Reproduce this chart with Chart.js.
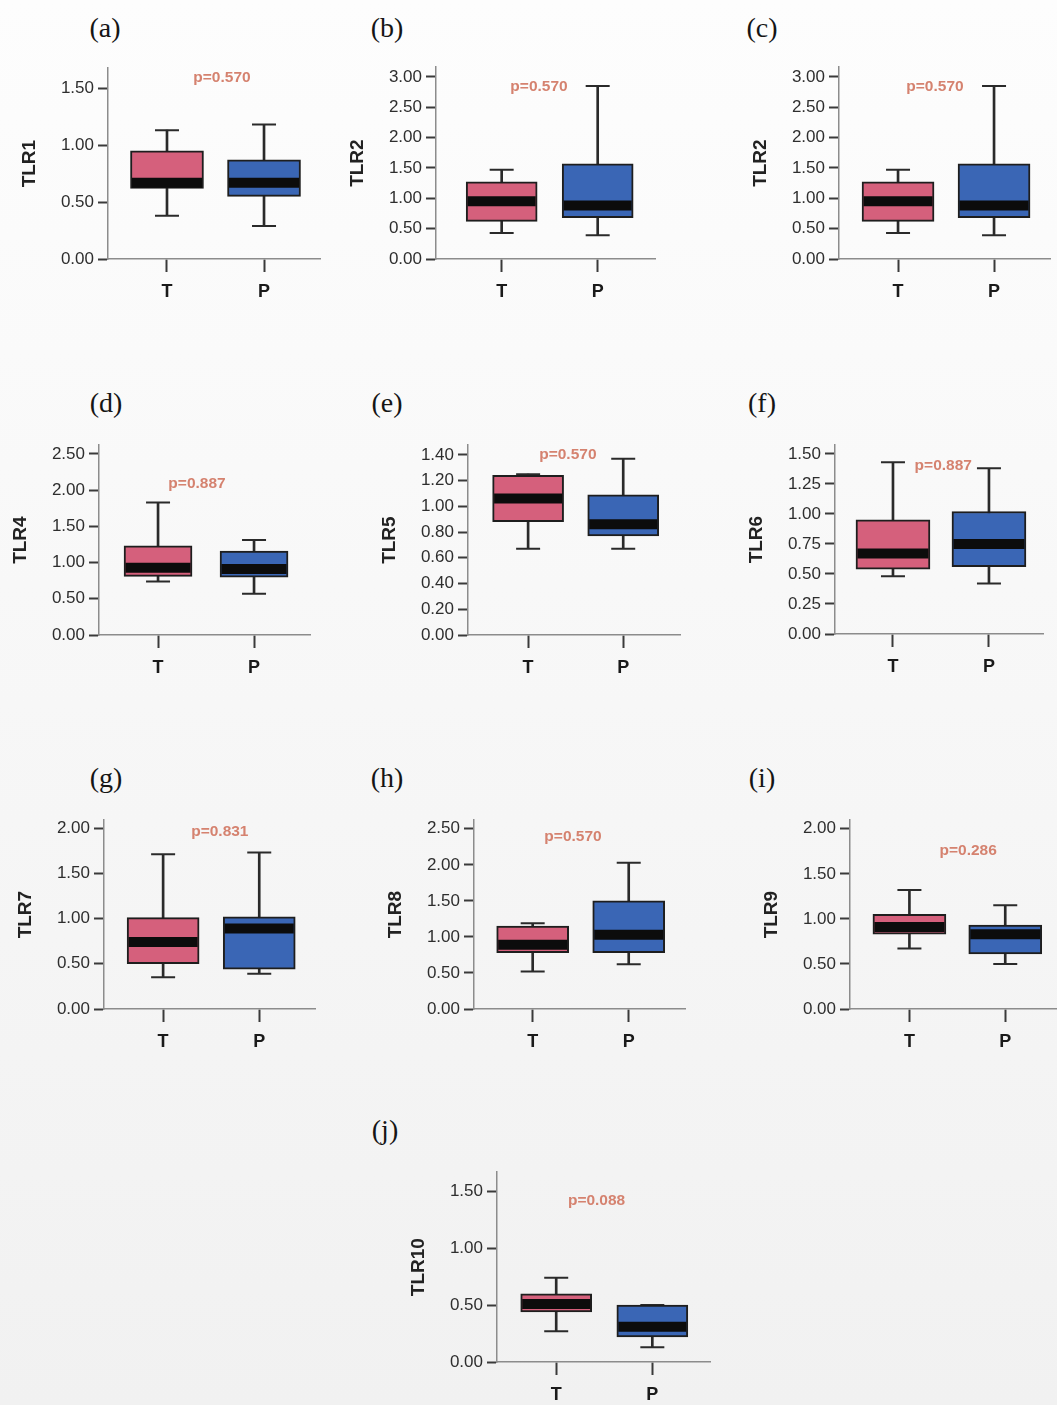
<!DOCTYPE html>
<html>
<head>
<meta charset="utf-8">
<title>TLR expression, T vs P</title>
<script src="https://cdn.jsdelivr.net/npm/chart.js@4.4.1/dist/chart.umd.min.js"></script>
<style>
  html, body { margin: 0; padding: 0; }
  body {
    width: 1057px; height: 1405px; position: relative; overflow: hidden;
    background: linear-gradient(#fdfdfd, #f1f1f1);
  }
  .plot { position: absolute; }
  .tag {
    position: absolute; transform: translate(-50%, -50%); line-height: 1;
    font-family: 'Liberation Serif', 'Times New Roman', serif; font-size: 28px; color: #151515;
  }
</style>
</head>
<body>
<script>
// one panel per receptor, two groups each
const panelTags = ['(a)', '(b)', '(c)', '(d)', '(e)', '(f)', '(g)', '(h)', '(i)', '(j)'];
const genes = ['TLR1', 'TLR2', 'TLR2', 'TLR4', 'TLR5', 'TLR6', 'TLR7', 'TLR8', 'TLR9', 'TLR10'];
const groups = ['T', 'P'];
const pLabels = ['p=0.570', 'p=0.570', 'p=0.570', 'p=0.887', 'p=0.570', 'p=0.887', 'p=0.831', 'p=0.570', 'p=0.286', 'p=0.088'];

// T group: whisker ends, quartiles, median
const tMin = [0.38, 0.43, 0.43, 0.74, 0.67, 0.48, 0.35, 0.52, 0.67, 0.27];
const tQ1  = [0.62, 0.62, 0.62, 0.81, 0.88, 0.54, 0.50, 0.78, 0.83, 0.44];
const tMed = [0.67, 0.95, 0.95, 0.93, 1.06, 0.67, 0.74, 0.89, 0.91, 0.51];
const tQ3  = [0.95, 1.27, 1.27, 1.23, 1.24, 0.95, 1.01, 1.15, 1.05, 0.60];
const tMax = [1.13, 1.47, 1.47, 1.83, 1.25, 1.43, 1.71, 1.19, 1.32, 0.74];

// P group
const pMin = [0.29, 0.39, 0.39, 0.57, 0.67, 0.42, 0.39, 0.62, 0.50, 0.13];
const pQ1  = [0.55, 0.68, 0.68, 0.80, 0.77, 0.56, 0.44, 0.78, 0.61, 0.22];
const pMed = [0.67, 0.88, 0.88, 0.91, 0.86, 0.75, 0.89, 1.03, 0.83, 0.31];
const pQ3  = [0.87, 1.57, 1.57, 1.16, 1.09, 1.02, 1.02, 1.50, 0.93, 0.50];
const pMax = [1.18, 2.85, 2.85, 1.31, 1.37, 1.38, 1.73, 2.03, 1.15, 0.50];

const yTicks = [
  [0, 0.5, 1, 1.5],
  [0, 0.5, 1, 1.5, 2, 2.5, 3],
  [0, 0.5, 1, 1.5, 2, 2.5, 3],
  [0, 0.5, 1, 1.5, 2, 2.5],
  [0, 0.2, 0.4, 0.6, 0.8, 1, 1.2, 1.4],
  [0, 0.25, 0.5, 0.75, 1, 1.25, 1.5],
  [0, 0.5, 1, 1.5, 2],
  [0, 0.5, 1, 1.5, 2, 2.5],
  [0, 0.5, 1, 1.5, 2],
  [0, 0.5, 1, 1.5]
];

// page placement of each plot: axis corner, axis ranges, box width, p-label spot (data units), tag centre
const layout = [
  { ax: 108, yt: 66,   y0: 259,  xr: 320,  xMin: 0.392, xMax: 2.577, yMax: 1.674, box: 73, note: [1.567, 1.587], tag: [105, 28] },
  { ax: 436, yt: 65,   y0: 259,  xr: 655,  xMin: 0.316, xMax: 2.597, yMax: 3.16,  box: 71, note: [1.389, 2.84],  tag: [387, 28] },
  { ax: 839, yt: 65,   y0: 259,  xr: 1050, xMin: 0.385, xMax: 2.583, yMax: 3.16,  box: 72, note: [1.385, 2.84],  tag: [762, 28] },
  { ax: 99,  yt: 443,  y0: 635,  xr: 310,  xMin: 0.385, xMax: 2.583, yMax: 2.62,  box: 68, note: [1.406, 2.09],  tag: [106, 403] },
  { ax: 468, yt: 443,  y0: 635,  xr: 680,  xMin: 0.368, xMax: 2.597, yMax: 1.475, box: 71, note: [1.418, 1.40],  tag: [387, 403] },
  { ax: 835, yt: 443,  y0: 634,  xr: 1043, xMin: 0.396, xMax: 2.563, yMax: 1.572, box: 74, note: [1.524, 1.405], tag: [762, 403] },
  { ax: 104, yt: 818,  y0: 1009, xr: 315,  xMin: 0.385, xMax: 2.58,  yMax: 2.087, box: 72, note: [1.59, 1.956],  tag: [106, 778] },
  { ax: 474, yt: 818,  y0: 1009, xr: 685,  xMin: 0.389, xMax: 2.586, yMax: 2.619, box: 72, note: [1.42, 2.386],  tag: [387, 778] },
  { ax: 850, yt: 818,  y0: 1009, xr: 1057, xMin: 0.38,  xMax: 2.54,  yMax: 2.095, box: 73, note: [1.613, 1.752], tag: [762, 778] },
  { ax: 497, yt: 1170, y0: 1362, xr: 710,  xMin: 0.384, xMax: 2.6,   yMax: 1.668, box: 71, note: [1.42, 1.413],  tag: [385, 1130] }
];

const Y_AXIS_W = 90, X_AXIS_H = 50, PAD_TOP = 12, PAD_RIGHT = 4;
const boxColors = ['#d5607c', '#3a66b5'];

Chart.defaults.font.family = "'Liberation Sans', Arial, sans-serif";

// p-value text, placed in data units
const pLabelPlugin = {
  id: 'pLabel',
  afterDatasetsDraw(chart, args, opts) {
    const { ctx, scales: { x, y } } = chart;
    ctx.save();
    ctx.font = "bold 15.5px 'Liberation Sans', Arial, sans-serif";
    ctx.fillStyle = '#d5826f';
    ctx.textAlign = 'center';
    ctx.textBaseline = 'middle';
    ctx.fillText(opts.text, x.getPixelForValue(opts.x), y.getPixelForValue(opts.y));
    ctx.restore();
  }
};

layout.forEach((L, i) => {
  const w = (L.xr - L.ax) + Y_AXIS_W + PAD_RIGHT;
  const h = (L.y0 - L.yt) + PAD_TOP + X_AXIS_H;

  // fixed-size wrapper so the canvas keeps exactly this footprint
  const wrap = document.createElement('div');
  wrap.className = 'plot';
  wrap.style.left = (L.ax - Y_AXIS_W) + 'px';
  wrap.style.top = (L.yt - PAD_TOP) + 'px';
  wrap.style.width = w + 'px';
  wrap.style.height = h + 'px';
  const canvas = document.createElement('canvas');
  wrap.appendChild(canvas);
  document.body.appendChild(wrap);

  const tag = document.createElement('div');
  tag.className = 'tag';
  tag.textContent = panelTags[i];
  tag.style.left = L.tag[0] + 'px';
  tag.style.top = L.tag[1] + 'px';
  document.body.appendChild(tag);

  new Chart(canvas, {
    type: 'bar',
    data: {
      datasets: [
        {
          // median band
          type: 'scatter',
          order: 0,
          data: [{ x: 1, y: tMed[i] }, { x: 2, y: pMed[i] }],
          pointStyle: 'line',
          pointRadius: L.box / 2 - 1.5,
          pointBorderWidth: 10,
          pointBorderColor: '#0c0c0c'
        },
        {
          // interquartile box
          order: 1,
          data: [{ x: 1, y: [tQ1[i], tQ3[i]] }, { x: 2, y: [pQ1[i], pQ3[i]] }],
          backgroundColor: boxColors,
          borderColor: '#1e1e1e',
          borderWidth: 2,
          borderSkipped: false,
          barThickness: L.box,
          grouped: false
        },
        {
          // whisker caps
          type: 'scatter',
          order: 2,
          data: [
            { x: 1, y: tMin[i] }, { x: 1, y: tMax[i] },
            { x: 2, y: pMin[i] }, { x: 2, y: pMax[i] }
          ],
          pointStyle: 'line',
          pointRadius: 12,
          pointBorderWidth: 2,
          pointBorderColor: '#2a2a2a'
        },
        {
          // whisker stem
          order: 3,
          data: [{ x: 1, y: [tMin[i], tMax[i]] }, { x: 2, y: [pMin[i], pMax[i]] }],
          backgroundColor: '#2a2a2a',
          borderWidth: 0,
          barThickness: 2,
          grouped: false
        }
      ]
    },
    options: {
      responsive: true,
      maintainAspectRatio: false,
      animation: false,
      events: [],
      layout: { autoPadding: false, padding: { top: PAD_TOP, right: PAD_RIGHT, left: 0, bottom: 0 } },
      plugins: {
        legend: { display: false },
        tooltip: { enabled: false },
        pLabel: { text: pLabels[i], x: L.note[0], y: L.note[1] }
      },
      scales: {
        x: {
          type: 'linear',
          min: L.xMin,
          max: L.xMax,
          offset: false,
          afterBuildTicks: s => { s.ticks = [{ value: 1 }, { value: 2 }]; },
          afterFit: s => { s.height = X_AXIS_H; },
          ticks: {
            callback: v => groups[v - 1],
            color: '#1a1a1a',
            font: { size: 18, weight: 'bold' },
            padding: 9,
            maxRotation: 0
          },
          grid: { drawOnChartArea: false, offset: false, tickLength: 13, tickWidth: 2, tickColor: '#3a3a3a' },
          border: { color: '#8c8c8c', width: 1.5 }
        },
        y: {
          type: 'linear',
          min: 0,
          max: L.yMax,
          afterBuildTicks: s => { s.ticks = yTicks[i].map(v => ({ value: v })); },
          afterFit: s => { s.width = Y_AXIS_W; },
          ticks: {
            callback: v => v.toFixed(2),
            color: '#2e2e2e',
            font: { size: 17 },
            padding: 4,
            autoSkip: false
          },
          grid: { drawOnChartArea: false, tickLength: 10, tickWidth: 2, tickColor: '#3a3a3a' },
          border: { color: '#8c8c8c', width: 1.5 },
          title: {
            display: true,
            text: genes[i],
            color: '#222',
            font: { size: 19, weight: 'bold' },
            padding: { top: 0, bottom: 0 }
          }
        }
      }
    },
    plugins: [pLabelPlugin]
  });
});
</script>
</body>
</html>
